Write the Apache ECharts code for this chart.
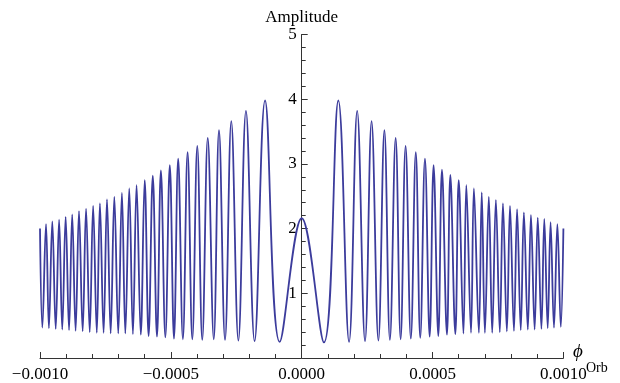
<!DOCTYPE html>
<html><head><meta charset="utf-8">
<script src="https://cdn.jsdelivr.net/npm/echarts@6/dist/echarts.min.js"></script>
<style>html,body{margin:0;padding:0;background:#fff}#c{width:620px;height:383px}</style>
</head><body><div id="c"></div>
<script>
// Left branch: alternating turning points (start, trough, peak, ...)
const phiLeft = [-0.001000, -0.000991, -0.000977, -0.000966, -0.000953, -0.000940, -0.000927, -0.000915, -0.000902, -0.000889,
  -0.000877, -0.000864, -0.000851, -0.000837, -0.000824, -0.000810, -0.000797, -0.000783, -0.000771, -0.000757,
  -0.000744, -0.000730, -0.000716, -0.000701, -0.000687, -0.000674, -0.000659, -0.000645, -0.000631, -0.000615,
  -0.000600, -0.000585, -0.000569, -0.000553, -0.000538, -0.000521, -0.000504, -0.000488, -0.000472, -0.000454,
  -0.000436, -0.000418, -0.000399, -0.000380, -0.000359, -0.000336, -0.000316, -0.000293, -0.000269, -0.000242,
  -0.000213, -0.000180, -0.000140, -0.000084];
const ampLeft = [2.00, 0.47, 2.07, 0.46, 2.11, 0.45, 2.14, 0.44, 2.18, 0.43,
  2.22, 0.42, 2.27, 0.41, 2.31, 0.40, 2.35, 0.39, 2.39, 0.39,
  2.45, 0.38, 2.49, 0.38, 2.55, 0.38, 2.62, 0.37, 2.67, 0.36,
  2.75, 0.34, 2.82, 0.33, 2.90, 0.32, 2.98, 0.30, 3.08, 0.29,
  3.18, 0.29, 3.28, 0.28, 3.40, 0.29, 3.52, 0.28, 3.66, 0.27,
  3.82, 0.26, 3.98, 0.25];
const phiCenter = [0];
const ampCenter = [2.16];
const phiRight = [0.000085, 0.000140, 0.000181, 0.000212, 0.000242, 0.000267, 0.000293, 0.000316, 0.000337, 0.000359,
  0.000378, 0.000397, 0.000417, 0.000436, 0.000453, 0.000471, 0.000489, 0.000504, 0.000522, 0.000536,
  0.000555, 0.000568, 0.000587, 0.000600, 0.000618, 0.000629, 0.000647, 0.000658, 0.000677, 0.000688,
  0.000700, 0.000715, 0.000728, 0.000742, 0.000757, 0.000769, 0.000784, 0.000796, 0.000811, 0.000823,
  0.000837, 0.000849, 0.000864, 0.000876, 0.000890, 0.000902, 0.000916, 0.000927, 0.000940, 0.000951,
  0.000964, 0.000977, 0.000990, 0.001000];
const ampRight = [0.24, 3.98, 0.25, 3.82, 0.26, 3.66, 0.27, 3.52, 0.28, 3.40,
  0.29, 3.28, 0.30, 3.18, 0.31, 3.08, 0.33, 2.98, 0.34, 2.91,
  0.36, 2.83, 0.37, 2.75, 0.38, 2.67, 0.39, 2.62, 0.39, 2.56,
  0.39, 2.49, 0.39, 2.44, 0.40, 2.39, 0.41, 2.35, 0.42, 2.30,
  0.43, 2.25, 0.44, 2.21, 0.44, 2.17, 0.45, 2.15, 0.46, 2.10,
  0.47, 2.07, 0.48, 2.00];

const xTicks = [-0.001, -0.0005, 0, 0.0005, 0.001];
const xTickLabels = ['\u22120.0010', '\u22120.0005', '0.0000', '0.0005', '0.0010'];
const yTicks = [1, 2, 3, 4, 5];
const yTickLabels = ['1', '2', '3', '4', '5'];

const phi = phiLeft.concat(phiCenter, phiRight);
const amp = ampLeft.concat(ampCenter, ampRight);
const data = phi.map((p, i) => [p, amp[i]]);

const FONT = "'Liberation Serif', 'Times New Roman', serif";
const AX = '#333333';
const GRID_L = 40, GRID_R = 56.6;
const PLOT_W = 620 - GRID_L - GRID_R;

function lookup(ticks, labels, v) {
  for (let i = 0; i < ticks.length; i++) if (Math.abs(ticks[i] - v) < 1e-9) return labels[i];
  return '';
}

const chart = echarts.init(document.getElementById('c'), null, {renderer: 'canvas'});
chart.setOption({
  animation: false,
  backgroundColor: '#ffffff',
  grid: {left: GRID_L, right: GRID_R, top: 34.5, bottom: 25, containLabel: false},
  xAxis: {
    type: 'value', min: -0.001, max: 0.001, interval: 0.0005,
    axisLine: {show: true, onZero: true, lineStyle: {color: AX, width: 1}},
    axisTick: {show: true, inside: true, length: 6, lineStyle: {color: AX}},
    minorTick: {show: true, splitNumber: 5, length: 4, lineStyle: {color: AX}},
    splitLine: {show: false}, minorSplitLine: {show: false},
    axisLabel: {show: true, margin: 8, color: '#000', fontFamily: FONT, fontSize: 17,
      showMinLabel: true, showMaxLabel: true, hideOverlap: false,
      formatter: v => lookup(xTicks, xTickLabels, v)}
  },
  yAxis: {
    type: 'value', min: 0, max: 5, interval: 1,
    position: 'left', offset: -PLOT_W / 2,
    name: 'Amplitude', nameLocation: 'end', nameGap: 8,
    nameTextStyle: {color: '#000', fontFamily: FONT, fontSize: 17},
    axisLine: {show: true, onZero: false, lineStyle: {color: AX, width: 1}},
    axisTick: {show: true, inside: true, length: 6, lineStyle: {color: AX}},
    minorTick: {show: true, splitNumber: 5, length: 4, lineStyle: {color: AX}},
    splitLine: {show: false}, minorSplitLine: {show: false},
    axisLabel: {show: true, margin: 5, color: '#000', fontFamily: FONT, fontSize: 17,
      showMinLabel: true, showMaxLabel: true, hideOverlap: false,
      formatter: v => lookup(yTicks, yTickLabels, v)}
  },
  series: [{
    type: 'line', data: data, showSymbol: false, smooth: 0.4,
    lineStyle: {color: '#3c3c9c', width: 1.8}, itemStyle: {color: '#3c3c9c'},
    clip: false
  }],
  graphic: [
    {type: 'text', left: 573, top: 342, style: {text: '\u03d5', font: "italic 19px 'Liberation Serif', serif", fill: '#000'}},
    {type: 'text', left: 586, top: 361, style: {text: 'Orb', font: "14px 'Liberation Serif', serif", fill: '#000'}}
  ]
});
</script>
</body></html>
